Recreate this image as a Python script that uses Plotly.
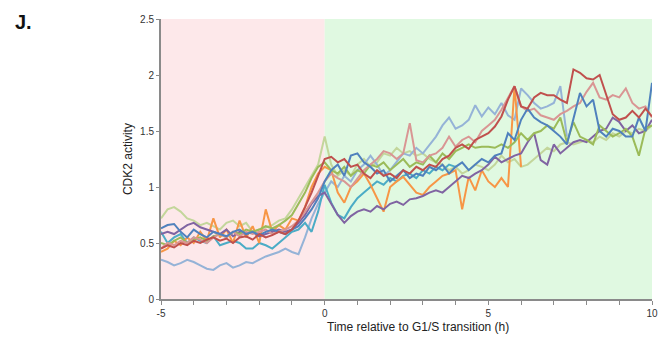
import plotly.graph_objects as go

# time grid (h), 0.2 h steps from -5 to 10
time_h = [-5.0, -4.8, -4.6, -4.4, -4.2, -4.0, -3.8, -3.6, -3.4, -3.2,
          -3.0, -2.8, -2.6, -2.4, -2.2, -2.0, -1.8, -1.6, -1.4, -1.2,
          -1.0, -0.8, -0.6, -0.4, -0.2, 0.0, 0.2, 0.4, 0.6, 0.8,
          1.0, 1.2, 1.4, 1.6, 1.8, 2.0, 2.2, 2.4, 2.6, 2.8,
          3.0, 3.2, 3.4, 3.6, 3.8, 4.0, 4.2, 4.4, 4.6, 4.8,
          5.0, 5.2, 5.4, 5.6, 5.8, 6.0, 6.2, 6.4, 6.6, 6.8,
          7.0, 7.2, 7.4, 7.6, 7.8, 8.0, 8.2, 8.4, 8.6, 8.8,
          9.0, 9.2, 9.4, 9.6, 9.8, 10.0]

cell_blue = [0.63, 0.66, 0.67, 0.6, 0.55, 0.62, 0.58, 0.55, 0.6, 0.58,
             0.56, 0.6, 0.62, 0.58, 0.6, 0.57, 0.6, 0.62, 0.6, 0.58,
             0.62, 0.65, 0.72, 0.8, 0.9,
             1.05, 1.15, 1.2, 1.1, 1.28, 1.3, 1.22, 1.18, 1.12, 1.15,
             1.05, 1.1, 1.15, 1.08, 1.12, 1.1, 1.18, 1.15, 1.2, 1.12,
             1.18, 1.22, 1.15, 1.2, 1.25, 1.22, 1.28, 1.3, 1.48, 1.42,
             1.6, 1.7, 1.62, 1.58, 1.55, 1.5, 1.45, 1.38, 1.6, 1.84,
             1.72, 1.78, 1.5, 1.45, 1.52, 1.5, 1.45, 1.45, 1.62, 1.5,
             1.93]

cell_red = [0.45, 0.48, 0.46, 0.5, 0.48, 0.52, 0.5, 0.53, 0.55, 0.52,
            0.54, 0.5, 0.55, 0.56, 0.53, 0.58, 0.55, 0.57, 0.6, 0.58,
            0.62, 0.7, 0.82, 0.95, 1.1,
            1.25, 1.27, 1.22, 1.25, 1.18, 1.2, 1.12, 1.08, 1.15, 1.1,
            1.12, 1.08, 1.15, 1.12, 1.18, 1.15, 1.2, 1.18, 1.25, 1.28,
            1.35, 1.38, 1.34, 1.42, 1.45, 1.48, 1.54, 1.63, 1.78, 1.9,
            1.72, 1.7, 1.8, 1.84, 1.82, 1.82, 1.78, 1.75, 2.05, 2.02,
            1.97, 1.96, 2.0, 1.82, 1.65, 1.6, 1.62, 1.68, 1.62, 1.7,
            1.63]

cell_green = [0.5, 0.48, 0.52, 0.55, 0.5, 0.53, 0.55, 0.52, 0.56, 0.58,
              0.55, 0.6, 0.58, 0.62, 0.6, 0.62, 0.65, 0.63, 0.66, 0.7,
              0.75, 0.85, 0.95, 1.08, 1.18,
              1.22, 1.15, 1.12, 1.18, 1.1, 1.15, 1.12, 1.2, 1.18, 1.22,
              1.15, 1.2, 1.25, 1.18, 1.22, 1.2, 1.28, 1.22, 1.3, 1.25,
              1.32, 1.35, 1.38, 1.35, 1.36, 1.36, 1.35, 1.38, 1.35, 1.4,
              1.48, 1.42, 1.48, 1.5, 1.55, 1.52, 1.62, 1.4, 1.58, 1.45,
              1.42, 1.38, 1.55, 1.5, 1.45, 1.48, 1.52, 1.45, 1.28, 1.52,
              1.55]

cell_purple = [0.58, 0.6, 0.58, 0.62, 0.66, 0.68, 0.64, 0.62, 0.6, 0.58,
               0.62, 0.56, 0.6, 0.58, 0.6, 0.56, 0.58, 0.6, 0.62, 0.6,
               0.62, 0.68, 0.75, 0.85, 0.92,
               0.95, 0.85, 0.75, 0.68, 0.74, 0.78, 0.8, 0.78, 0.83, 0.8,
               0.85, 0.87, 0.84, 0.89, 0.9, 0.92, 0.95, 0.97, 0.95, 1.0,
               1.05, 1.1, 1.08, 1.12, 1.15, 1.2, 1.27, 1.22, 1.25, 1.28,
               1.3, 1.4, 1.48, 1.24, 1.2, 1.38, 1.3, 1.35, 1.4, 1.42,
               1.4, 1.45, 1.5, 1.52, 1.62, 1.58, 1.5, 1.55, 1.48, 1.5,
               1.6]

cell_teal = [0.6, 0.5, 0.55, 0.58, 0.5, 0.55, 0.52, 0.5, 0.56, 0.48,
             0.5, 0.52, 0.5, 0.45, 0.45, 0.5, 0.48, 0.45, 0.5, 0.55,
             0.6, 0.62, 0.68, 0.6, 0.78,
             1.02, 0.86, 0.75, 0.72, 0.82, 0.9, 0.95, 1.0, 1.05, 1.02,
             1.08, 1.05, 1.1, 1.12, 1.08, 1.15, 1.12, 1.18, 1.15, 1.2,
             1.18]

cell_orange = [0.42, 0.45, 0.52, 0.48, 0.55, 0.5, 0.6, 0.52, 0.72, 0.55,
               0.62, 0.5, 0.7, 0.55, 0.65, 0.5, 0.8, 0.6, 0.66, 0.62,
               0.72, 0.7, 0.82, 1.0, 1.12,
               1.18, 1.15, 0.95, 0.86, 1.0, 1.05, 1.12, 1.02, 0.9, 0.78,
               1.0, 1.05, 1.09, 1.02, 0.95, 0.93, 1.0, 1.05, 1.1, 1.12,
               1.15, 0.8, 1.09, 0.97, 1.15, 1.05, 1.0, 1.08, 1.0, 1.9,
               1.18]

cell_pink = [0.45, 0.5, 0.48, 0.52, 0.5, 0.55, 0.53, 0.5, 0.55, 0.58,
             0.55, 0.6, 0.56, 0.6, 0.58, 0.6, 0.62, 0.58, 0.6, 0.62,
             0.65, 0.7, 0.78, 0.86, 0.95,
             1.05, 1.12, 1.08, 1.05, 1.0, 1.08, 1.15, 1.2, 1.25, 1.32,
             1.3, 1.25, 1.3, 1.57, 1.24, 1.22, 1.28, 1.3, 1.35, 1.45,
             1.36, 1.42, 1.45, 1.4, 1.5, 1.55, 1.6, 1.69, 1.8, 1.9,
             1.72, 1.68, 1.7, 1.64, 1.62, 1.6, 1.65, 1.68, 1.72, 1.75,
             1.85, 1.93, 1.8, 1.78, 1.82, 1.8, 1.88, 1.75, 1.7, 1.72,
             1.62]

cell_lightblue = [0.35, 0.33, 0.3, 0.32, 0.35, 0.33, 0.3, 0.27, 0.26, 0.3,
                  0.32, 0.28, 0.3, 0.33, 0.32, 0.35, 0.38, 0.4, 0.42, 0.45,
                  0.42, 0.4, 0.55, 0.72, 0.85,
                  0.95, 1.05, 1.0, 1.1, 1.05, 1.15, 1.2, 1.28, 1.2, 1.1,
                  1.15, 1.22, 1.3, 1.28, 1.35, 1.3, 1.38, 1.45, 1.55, 1.62,
                  1.52, 1.55, 1.6, 1.73, 1.63, 1.71, 1.65, 1.75, 1.64, 1.6,
                  1.88, 1.82, 1.75, 1.7, 1.72, 1.75, 1.9, 1.45]

cell_lightgreen = [0.72, 0.8, 0.82, 0.78, 0.72, 0.7, 0.66, 0.68, 0.65, 0.62,
                   0.68, 0.7, 0.65, 0.68, 0.6, 0.62, 0.64, 0.66, 0.7, 0.72,
                   0.8, 0.9, 1.0, 1.1, 1.2,
                   1.45, 1.2, 1.1, 1.15, 1.1, 1.2, 1.25, 1.18, 1.22, 1.3,
                   1.28, 1.35, 1.3, 1.32, 1.28, 1.3, 1.25, 1.22, 1.2, 1.15,
                   1.18, 1.12, 1.15, 1.2, 1.18, 1.15, 1.2, 1.28, 1.22, 1.25,
                   1.18, 1.2, 1.25, 1.3, 1.35, 1.32, 1.38, 1.4, 1.38, 1.4,
                   1.42, 1.4, 1.45, 1.42, 1.48, 1.45, 1.5, 1.48, 1.52, 1.5,
                   1.55]

series = [
    ("cell 9", cell_lightgreen, "#C3D69B"),
    ("cell 8", cell_lightblue, "#95B3D7"),
    ("cell 5", cell_teal, "#4BACC6"),
    ("cell 6", cell_orange, "#F79646"),
    ("cell 4", cell_purple, "#8064A2"),
    ("cell 3", cell_green, "#9BBB59"),
    ("cell 7", cell_pink, "#D99694"),
    ("cell 1", cell_blue, "#4F81BD"),
    ("cell 2", cell_red, "#C0504D"),
]

x_ticks = [-5, 0, 5, 10]
x_ticktext = ["-5", "0", "5", "10"]
y_ticks = [0, 0.5, 1, 1.5, 2, 2.5]
y_ticktext = ["0", "0.5", "1", "1.5", "2", "2.5"]

fig = go.Figure()
for name, vals, col in series:
    fig.add_trace(go.Scatter(x=time_h[:len(vals)], y=vals, mode="lines", name=name,
                             line=dict(color=col, width=2), showlegend=False))

fig.add_shape(type="rect", xref="x", yref="y", x0=-5, x1=0, y0=0, y1=2.5,
              fillcolor="#fde8ea", line=dict(width=0), layer="below")
fig.add_shape(type="rect", xref="x", yref="y", x0=0, x1=10, y0=0, y1=2.5,
              fillcolor="#e0f9e1", line=dict(width=0), layer="below")

axis_col = "#8a8a8a"
fig.update_layout(
    width=660, height=340,
    margin=dict(l=161, r=8, t=19, b=41, autoexpand=False),
    paper_bgcolor="white", plot_bgcolor="white",
    font=dict(family="Liberation Sans, Arial, sans-serif", size=10, color="#222"),
    xaxis=dict(range=[-5, 10], tickvals=x_ticks, ticktext=x_ticktext, showgrid=False,
               zeroline=False, showline=True, linecolor=axis_col, linewidth=2,
               ticks="outside", ticklen=4, tickcolor=axis_col, tickwidth=1,
               minor=dict(dtick=1, ticks="outside", ticklen=4, tickcolor=axis_col, tickwidth=1),
               tickfont=dict(size=10, color="#333")),
    yaxis=dict(range=[0, 2.5], tickvals=y_ticks, ticktext=y_ticktext, showgrid=False,
               zeroline=False, showline=True, linecolor=axis_col, linewidth=2,
               ticks="outside", ticklen=3, tickcolor=axis_col, tickwidth=1,
               tickfont=dict(size=10, color="#333")),
    annotations=[
        dict(text="<b>J.</b>", xref="paper", yref="paper", x=-0.302, y=0.99,
             xanchor="left", yanchor="middle", showarrow=False,
             font=dict(size=20, color="#111")),
        dict(text="CDK2 activity", xref="paper", yref="paper", x=-0.067, y=0.5,
             textangle=-90, xanchor="center", yanchor="middle", showarrow=False,
             font=dict(size=12, color="#222")),
        dict(text="Time relative to G1/S transition (h)", xref="paper", yref="paper",
             x=0.523, y=-0.1, xanchor="center", yanchor="middle", showarrow=False,
             font=dict(size=12, color="#222")),
    ],
)

fig.write_html("out.html", config={"displayModeBar": False},
               post_script="document.body.style.margin='0';")
